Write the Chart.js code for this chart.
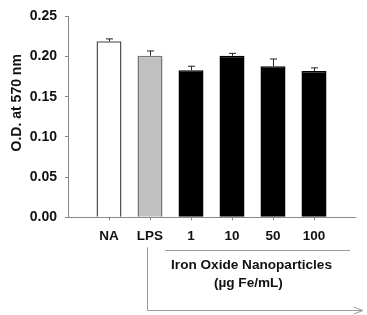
<!DOCTYPE html>
<html>
<head>
<meta charset="utf-8">
<script src="https://cdn.jsdelivr.net/npm/chart.js@4"></script>
<style>
  html, body { margin: 0; padding: 0; background: #fff; }
  #wrap { width: 367px; height: 315px; }
</style>
</head>
<body>
<div id="wrap"><canvas id="c" width="367" height="315"></canvas></div>
<script>
const categories = ['NA', 'LPS', '1', '10', '50', '100'];
const odValues   = [0.219, 0.201, 0.183, 0.201, 0.188, 0.182];
const odErrors   = [0.003, 0.006, 0.005, 0.003, 0.009, 0.004];
const yTicks     = [0.00, 0.05, 0.10, 0.15, 0.20, 0.25];
const groupTitle = ['Iron Oxide Nanoparticles', '(\u00b5g Fe/mL)'];
const yTitle     = 'O.D. at 570 nm';

const FONT = "Arial, 'Liberation Sans', sans-serif";
const fills   = ['#ffffff', '#c0c0c0', '#000000', '#000000', '#000000', '#000000'];
const borders = ['#555555', '#777777', '#000000', '#000000', '#000000', '#000000'];

// pad with empty slots at both ends so the axis extends one slot beyond the bars
const labels = [''].concat(categories, ['']);
const data = [null].concat(odValues, [null]);
const errs = [null].concat(odErrors, [null]);

const errorBars = {
  id: 'errorBars',
  afterDatasetsDraw(chart) {
    const meta = chart.getDatasetMeta(0);
    const ys = chart.scales.y;
    const ctx = chart.ctx;
    ctx.save();
    ctx.strokeStyle = '#222';
    ctx.lineWidth = 1;
    meta.data.forEach((el, i) => {
      if (data[i] == null) return;
      const yTop = ys.getPixelForValue(data[i] + errs[i]);
      const x = Math.round(el.x) + 0.5;
      ctx.beginPath();
      ctx.moveTo(x, el.y);
      ctx.lineTo(x, yTop);
      ctx.moveTo(x - 3.5, yTop);
      ctx.lineTo(x + 3.5, yTop);
      ctx.stroke();
    });
    ctx.restore();
  }
};

const annot = {
  id: 'annot',
  afterDraw(chart) {
    const xs = chart.scales.x;
    const ys = chart.scales.y;
    const b = chart.chartArea.bottom;
    const ctx = chart.ctx;
    ctx.save();
    ctx.strokeStyle = '#9a9a9a';
    ctx.lineWidth = 1;
    // bracket line under concentration labels
    const yl = Math.round(b + 33) + 0.5;
    ctx.beginPath();
    ctx.moveTo(xs.getPixelForValue(2.37), yl);
    ctx.lineTo(xs.getPixelForValue(6.88), yl);
    ctx.stroke();
    // arrow from LPS down and right
    const ax = Math.round(xs.getPixelForValue(1.93)) + 0.5;
    const ay = Math.round(b + 93) + 0.5;
    const ex = xs.getPixelForValue(7.19);
    ctx.beginPath();
    ctx.moveTo(ax, b + 30);
    ctx.lineTo(ax, ay);
    ctx.lineTo(ex, ay);
    ctx.moveTo(ex - 9, ay - 3.5);
    ctx.lineTo(ex, ay);
    ctx.lineTo(ex - 9, ay + 3.5);
    ctx.stroke();
    // group title
    ctx.fillStyle = '#111';
    ctx.font = 'bold 13.6px ' + FONT;
    ctx.textAlign = 'center';
    ctx.textBaseline = 'middle';
    ctx.fillText(groupTitle[0], xs.getPixelForValue(4.476), b + 48);
    ctx.fillText(groupTitle[1], xs.getPixelForValue(4.40), b + 66);
    // y axis title (sits above the axis centre in the original)
    ctx.font = 'bold 14px ' + FONT;
    ctx.translate(17, ys.getPixelForValue(0.1425));
    ctx.rotate(-Math.PI / 2);
    ctx.fillText(yTitle, 0, 0);
    ctx.restore();
  }
};

new Chart(document.getElementById('c'), {
  type: 'bar',
  data: {
    labels: labels,
    datasets: [{
      data: data,
      backgroundColor: [null].concat(fills, [null]),
      borderColor: [null].concat(borders, [null]),
      borderWidth: 1.5,
      categoryPercentage: 1,
      barPercentage: 0.61
    }]
  },
  options: {
    responsive: false,
    animation: false,
    devicePixelRatio: 1,
    layout: { padding: { top: 12.5, right: 12, bottom: 0, left: 0 } },
    plugins: { legend: { display: false }, tooltip: { enabled: false } },
    scales: {
      x: {
        offset: false,
        grid: {
          drawOnChartArea: false,
          drawTicks: true,
          tickLength: 3,
          offset: false,
          tickColor: (c) => (c.index === 0 || c.index === labels.length - 1) ? 'rgba(0,0,0,0)' : '#888'
        },
        border: { color: '#8a8a8a', width: 1 },
        ticks: {
          color: '#111',
          padding: 8,
          maxRotation: 0,
          autoSkip: false,
          font: { family: FONT, size: 13.5, weight: 'bold' }
        },
        afterFit(s) { s.height = 97.7; }
      },
      y: {
        min: 0,
        max: 0.25,
        afterBuildTicks(s) { s.ticks = yTicks.map(v => ({ value: v })); },
        grid: { drawOnChartArea: false, drawTicks: true, tickLength: 3, color: '#888' },
        border: { color: '#8a8a8a', width: 1 },
        ticks: {
          color: '#111',
          padding: 8,
          font: { family: FONT, size: 14, weight: 'bold' },
          callback: (v) => Number(v).toFixed(2)
        },
        title: { display: false },
        afterFit(s) { s.width = 68; }
      }
    }
  },
  plugins: [errorBars, annot]
});
</script>
</body>
</html>
